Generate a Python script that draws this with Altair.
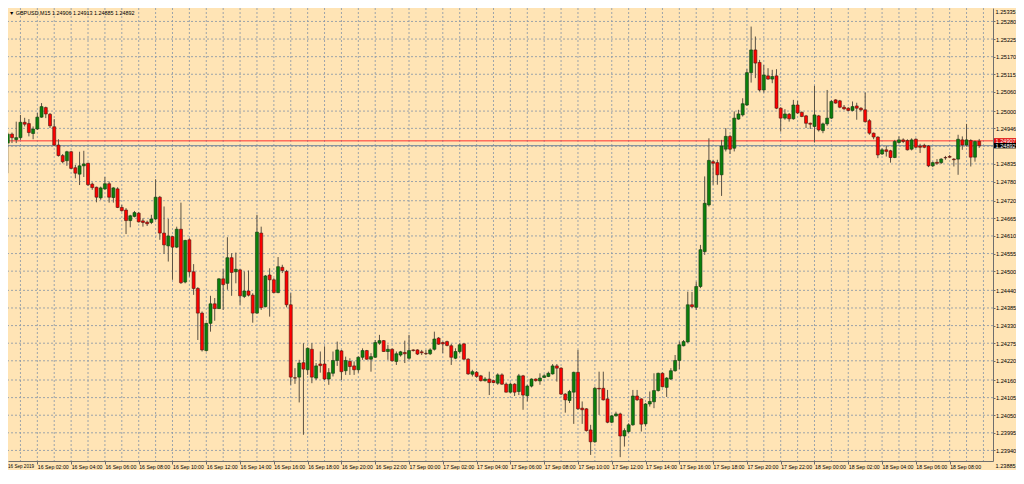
import altair as alt
import pandas as pd
import numpy as np

# ---------------- data (GBPUSD, M15) ----------------
symbol_title = "\u25bc GBPUSD,M15 1.24906 1.24913 1.24885 1.24892"
first_bar = "2019-09-16 00:15"
bar_freq = "15min"

opens = [
1.24900,1.24928,1.24911,1.24917,1.24965,1.24961,1.24930,1.24944,1.24981,1.25011,
1.24990,1.24951,1.24894,1.24861,1.24845,1.24873,1.24823,1.24803,1.24829,1.24837,
1.24772,1.24762,1.24729,1.24757,1.24773,1.24730,1.24757,1.24699,1.24691,1.24658,
1.24671,1.24681,1.24657,1.24653,1.24652,1.24663,1.24731,1.24619,1.24579,1.24608,
1.24575,1.24631,1.24466,1.24598,1.24498,1.24446,1.24369,1.24252,1.24337,1.24398,
1.24383,1.24476,1.24462,1.24542,1.24498,1.24504,1.24421,1.24438,1.24425,1.24369,
1.24619,1.24389,1.24488,1.24473,1.24433,1.24512,1.24499,1.24395,1.24167,1.24169,
1.24214,1.24192,1.24256,1.24166,1.24210,1.24210,1.24163,1.24181,1.24221,1.24251,
1.24189,1.24218,1.24204,1.24192,1.24231,1.24252,1.24225,1.24231,1.24275,1.24283,
1.24249,1.24256,1.24218,1.24238,1.24246,1.24228,1.24254,1.24254,1.24248,1.24243,
1.24242,1.24256,1.24291,1.24277,1.24280,1.24267,1.24228,1.24249,1.24273,1.24225,
1.24178,1.24184,1.24173,1.24158,1.24163,1.24158,1.24150,1.24176,1.24147,1.24122,
1.24147,1.24124,1.24173,1.24111,1.24141,1.24163,1.24157,1.24168,1.24171,1.24179,
1.24204,1.24197,1.24116,1.24096,1.24122,1.24184,1.24072,1.24070,1.24004,1.23967,
1.24134,1.24134,1.24101,1.24028,1.24048,1.24054,1.23985,1.23999,1.24020,1.24110,
1.24101,1.24023,1.24085,1.24092,1.24127,1.24181,1.24137,1.24163,1.24189,1.24221,
1.24267,1.24279,1.24395,1.24387,1.24452,1.24561,1.24707,1.24842,1.24839,1.24801,
1.24881,1.24921,1.24884,1.24975,1.24988,1.25019,1.25120,1.25191,1.25152,1.25066,
1.25110,1.25100,1.25110,1.25009,1.24978,1.24990,1.24976,1.25019,1.24996,1.24985,
1.24962,1.24952,1.24985,1.24939,1.24960,1.24978,1.25035,1.25032,1.25012,1.25009,
1.25002,1.25016,1.25009,1.25004,1.24970,1.24931,1.24919,1.24866,1.24879,1.24876,
1.24855,1.24902,1.24910,1.24908,1.24881,1.24912,1.24891,1.24893,1.24891,1.24829,
1.24840,1.24839,1.24855,1.24858,1.24850,1.24850,1.24910,1.24894,1.24908,1.24856,
1.24906]

highs = [
1.24933,1.24933,1.24967,1.24988,1.24979,1.24975,1.24952,1.24994,1.25025,1.25014,
1.24994,1.24975,1.24912,1.24866,1.24876,1.24876,1.24832,1.24873,1.24876,1.24839,
1.24777,1.24764,1.24764,1.24794,1.24780,1.24762,1.24762,1.24707,1.24697,1.24676,
1.24688,1.24685,1.24665,1.24658,1.24676,1.24787,1.24735,1.24702,1.24663,1.24610,
1.24639,1.24714,1.24598,1.24603,1.24522,1.24450,1.24374,1.24339,1.24423,1.24416,
1.24478,1.24506,1.24606,1.24556,1.24558,1.24506,1.24499,1.24502,1.24431,1.24676,
1.24639,1.24488,1.24509,1.24478,1.24544,1.24520,1.24504,1.24431,1.24197,1.24223,
1.24275,1.24262,1.24275,1.24213,1.24249,1.24265,1.24197,1.24249,1.24280,1.24254,
1.24233,1.24228,1.24218,1.24234,1.24259,1.24254,1.24244,1.24285,1.24301,1.24285,
1.24270,1.24259,1.24249,1.24251,1.24283,1.24301,1.24256,1.24256,1.24254,1.24254,
1.24259,1.24311,1.24294,1.24280,1.24283,1.24273,1.24259,1.24275,1.24275,1.24228,
1.24192,1.24188,1.24176,1.24169,1.24186,1.24161,1.24181,1.24181,1.24152,1.24152,
1.24150,1.24179,1.24176,1.24145,1.24165,1.24165,1.24181,1.24178,1.24186,1.24210,
1.24210,1.24200,1.24119,1.24129,1.24186,1.24254,1.24093,1.24072,1.24020,1.24139,
1.24186,1.24186,1.24129,1.24051,1.24061,1.24058,1.24009,1.24025,1.24129,1.24129,
1.24103,1.24088,1.24124,1.24181,1.24183,1.24184,1.24169,1.24197,1.24238,1.24280,
1.24285,1.24436,1.24435,1.24467,1.24582,1.24796,1.24915,1.24848,1.24848,1.24910,
1.24947,1.24926,1.24999,1.25004,1.25040,1.25131,1.25264,1.25233,1.25160,1.25144,
1.25134,1.25129,1.25131,1.25012,1.25006,1.24994,1.25035,1.25032,1.24999,1.24988,
1.24964,1.25079,1.24988,1.24964,1.25066,1.25035,1.25037,1.25035,1.25019,1.25012,
1.25030,1.25026,1.25012,1.25058,1.24975,1.24933,1.24921,1.24884,1.24891,1.24879,
1.24910,1.24921,1.24915,1.24912,1.24915,1.24915,1.24898,1.24898,1.24894,1.24842,
1.24850,1.24853,1.24860,1.24863,1.24853,1.24926,1.24921,1.24960,1.24912,1.24908,
1.24913]

lows = [
1.24806,1.24900,1.24900,1.24910,1.24952,1.24921,1.24912,1.24941,1.24979,1.24978,
1.24947,1.24891,1.24858,1.24837,1.24829,1.24819,1.24790,1.24769,1.24794,1.24766,
1.24754,1.24715,1.24723,1.24754,1.24714,1.24714,1.24697,1.24686,1.24616,1.24637,
1.24668,1.24652,1.24639,1.24641,1.24647,1.24660,1.24598,1.24554,1.24530,1.24473,
1.24572,1.24460,1.24462,1.24483,1.24426,1.24285,1.24249,1.24249,1.24311,1.24345,
1.24382,1.24379,1.24442,1.24423,1.24462,1.24395,1.24416,1.24421,1.24339,1.24367,
1.24379,1.24387,1.24358,1.24431,1.24431,1.24494,1.24387,1.24145,1.24148,1.24090,
1.23989,1.24176,1.24150,1.24160,1.24183,1.24160,1.24145,1.24171,1.24204,1.24160,
1.24176,1.24176,1.24176,1.24183,1.24223,1.24223,1.24186,1.24229,1.24270,1.24248,
1.24223,1.24218,1.24207,1.24233,1.24213,1.24223,1.24249,1.24238,1.24238,1.24238,
1.24238,1.24252,1.24270,1.24244,1.24265,1.24207,1.24225,1.24244,1.24223,1.24176,
1.24171,1.24167,1.24155,1.24155,1.24113,1.24150,1.24145,1.24145,1.24121,1.24119,
1.24110,1.24113,1.24067,1.24093,1.24137,1.24155,1.24145,1.24166,1.24169,1.24177,
1.24155,1.24113,1.24058,1.24088,1.24023,1.24067,1.24023,1.23999,1.23926,1.23964,
1.24051,1.24096,1.24025,1.24025,1.24046,1.23919,1.23952,1.23994,1.24017,1.24095,
1.23999,1.24015,1.24077,1.24072,1.24124,1.24137,1.24107,1.24160,1.24186,1.24194,
1.24265,1.24276,1.24385,1.24379,1.24447,1.24551,1.24702,1.24770,1.24770,1.24735,
1.24874,1.24866,1.24874,1.24973,1.24983,1.25016,1.25089,1.25103,1.25061,1.25058,
1.25098,1.25087,1.25006,1.24936,1.24973,1.24967,1.24973,1.24991,1.24981,1.24947,
1.24944,1.24902,1.24936,1.24931,1.24954,1.24975,1.25023,1.25009,1.25004,1.24999,
1.24999,1.24973,1.24999,1.24964,1.24926,1.24912,1.24853,1.24863,1.24858,1.24839,
1.24853,1.24898,1.24900,1.24877,1.24877,1.24884,1.24869,1.24884,1.24825,1.24825,
1.24832,1.24835,1.24848,1.24853,1.24827,1.24801,1.24879,1.24889,1.24827,1.24842,
1.24885]

closes = [
1.24928,1.24917,1.24917,1.24965,1.24959,1.24933,1.24944,1.24981,1.25014,1.24991,
1.24954,1.24894,1.24861,1.24842,1.24873,1.24821,1.24806,1.24829,1.24835,1.24770,
1.24761,1.24731,1.24760,1.24773,1.24731,1.24760,1.24699,1.24689,1.24658,1.24673,
1.24683,1.24654,1.24652,1.24648,1.24663,1.24731,1.24619,1.24582,1.24610,1.24575,
1.24631,1.24464,1.24596,1.24498,1.24446,1.24369,1.24254,1.24337,1.24398,1.24383,
1.24476,1.24458,1.24542,1.24496,1.24506,1.24423,1.24438,1.24425,1.24369,1.24622,
1.24386,1.24485,1.24473,1.24433,1.24514,1.24502,1.24395,1.24169,1.24166,1.24213,
1.24194,1.24259,1.24169,1.24204,1.24205,1.24163,1.24183,1.24221,1.24254,1.24186,
1.24221,1.24202,1.24192,1.24231,1.24252,1.24225,1.24233,1.24277,1.24283,1.24249,
1.24256,1.24220,1.24242,1.24248,1.24242,1.24252,1.24252,1.24241,1.24245,1.24242,
1.24254,1.24288,1.24272,1.24273,1.24268,1.24231,1.24249,1.24270,1.24225,1.24179,
1.24186,1.24171,1.24158,1.24163,1.24152,1.24152,1.24176,1.24147,1.24122,1.24147,
1.24122,1.24173,1.24113,1.24141,1.24163,1.24158,1.24166,1.24173,1.24181,1.24204,
1.24197,1.24116,1.24098,1.24124,1.24184,1.24070,1.24067,1.24002,1.23967,1.24134,
1.24132,1.24098,1.24028,1.24048,1.24054,1.23985,1.24002,1.24020,1.24110,1.24098,
1.24022,1.24085,1.24093,1.24127,1.24181,1.24139,1.24166,1.24189,1.24221,1.24270,
1.24280,1.24395,1.24389,1.24452,1.24567,1.24712,1.24846,1.24837,1.24801,1.24891,
1.24921,1.24881,1.24978,1.24991,1.25023,1.25120,1.25191,1.25150,1.25066,1.25113,
1.25100,1.25108,1.25009,1.24978,1.24991,1.24976,1.25019,1.24994,1.24983,1.24962,
1.24959,1.24988,1.24941,1.24960,1.24978,1.25030,1.25025,1.25012,1.25007,1.25002,
1.25014,1.25009,1.25004,1.24967,1.24931,1.24919,1.24863,1.24879,1.24874,1.24855,
1.24905,1.24910,1.24905,1.24879,1.24910,1.24887,1.24887,1.24887,1.24829,1.24839,
1.24837,1.24850,1.24854,1.24856,1.24848,1.24912,1.24894,1.24910,1.24856,1.24905,
1.24892]

# right price scale labels (as printed by the terminal)
y_tick_labels = [1.25280, 1.25225, 1.25170, 1.25115, 1.25060, 1.25000,
                 1.24946, 1.24835, 1.24780, 1.24720, 1.24665, 1.24610, 1.24555,
                 1.24500, 1.24440, 1.24385, 1.24330, 1.24275, 1.24220, 1.24160,
                 1.24105, 1.24050, 1.23995, 1.23940]
y_edge_labels = ["1.25335", "1.23885"]
hidden_grid_levels = [1.24890]
ask_price = 1.24907
bid_price = 1.24892
price_labels = ["1.24907", "1.24892"]
first_date_label = "16 Sep 2019"

x_start = "2019-09-16 00:33:34"
x_end = "2019-09-18 10:16:12"
label_start, label_end = "2019-09-16 02:00", "2019-09-18 08:00"
grid_start, grid_end = "2019-09-16 01:00", "2019-09-18 10:00"
y_domain = [1.23907, 1.25322]

# ---------------- styling ----------------
BG = "#FFE4B5"
GRID = "#8C99A8"
WICK = "#5A5245"
BULL, BULL_EDGE = "#0B800B", "#123812"
BEAR, BEAR_EDGE = "#FF0000", "#4A1A10"
AXIS = "#6E6E6E"
FONT = "Liberation Sans"
PLOT_W, PLOT_H = 985, 453
RIGHT_PAD = 23
LBL = 5.6


def ms(ts):
    return int(pd.Timestamp(ts).value // 10**6)


times = pd.date_range(first_bar, periods=len(opens), freq=bar_freq)
df = pd.DataFrame({
    "t": [ms(t) for t in times],
    "o": opens, "h": highs, "l": lows, "c": closes,
})
df["fill"] = np.where(df["c"] >= df["o"], BULL, BEAR)
df["edge"] = np.where(df["c"] >= df["o"], BULL_EDGE, BEAR_EDGE)

label_ms = [ms(t) for t in pd.date_range(label_start, label_end, freq="2h")]
hour_ms = [ms(t) for t in pd.date_range(grid_start, grid_end, freq="1h")]

xscale = alt.Scale(domain=[ms(x_start), ms(x_end)], nice=False, zero=False)
yscale = alt.Scale(domain=y_domain, nice=False, zero=False)

xaxis = alt.Axis(
    values=label_ms,
    labelExpr="utcFormat(datum.value, '%d %b %H:%M')",
    grid=False, domainColor=AXIS, domainWidth=1, tickColor=AXIS, tickSize=3,
    labelFontSize=5.2, labelFont=FONT, labelColor="#000000", labelAlign="left",
    labelBaseline="top", labelPadding=0, labelOverlap=False, labelFlush=False,
    labelBound=False, title=None,
)
yaxis = alt.Axis(
    orient="right", values=y_tick_labels, format=".5f", grid=False,
    domainColor=AXIS, domainWidth=1, tickColor=AXIS, tickSize=2, labelPadding=0.5,
    labelFontSize=LBL, labelFont=FONT, labelColor="#000000", labelAlign="left",
    labelBaseline="middle", labelOverlap=False, labelFlush=False, labelBound=False,
    title=None,
)

X = alt.X("t:Q", scale=xscale, axis=xaxis)

vgrid = alt.Chart(pd.DataFrame({"t": hour_ms})).mark_rule(
    color=GRID, strokeDash=[2, 2], strokeWidth=1, opacity=0.85
).encode(x=X)

hgrid = alt.Chart(pd.DataFrame({"p": y_tick_labels + hidden_grid_levels})).mark_rule(
    color=GRID, strokeDash=[2, 2], strokeWidth=1, opacity=0.85
).encode(y=alt.Y("p:Q", scale=yscale, axis=yaxis))

price_lines = alt.Chart(pd.DataFrame({
    "p": [ask_price, bid_price], "col": ["#FF3030", "#778899"]
})).mark_rule(strokeWidth=1).encode(
    y=alt.Y("p:Q", scale=yscale, axis=yaxis), color=alt.Color("col:N", scale=None)
)

wicks = alt.Chart(df).mark_rule(color=WICK, strokeWidth=1).encode(
    x=X, y=alt.Y("l:Q", scale=yscale, axis=yaxis), y2="h:Q"
)

bodies = alt.Chart(df).mark_bar(size=3, strokeWidth=0.6).encode(
    x=X, y=alt.Y("o:Q", scale=yscale, axis=yaxis), y2="c:Q",
    color=alt.Color("fill:N", scale=None), stroke=alt.Stroke("edge:N", scale=None),
)

box_df = pd.DataFrame({
    "p": [ask_price, bid_price], "lab": price_labels,
    "col": ["#E01010", "#000000"],
})
box_df["lo"] = box_df["p"] - 0.000085
box_df["hi"] = box_df["p"] + 0.000085

boxes = alt.Chart(box_df).mark_rect().encode(
    x=alt.value(PLOT_W + 1), x2=alt.value(PLOT_W + RIGHT_PAD),
    y=alt.Y("lo:Q", scale=yscale, axis=yaxis), y2="hi:Q",
    color=alt.Color("col:N", scale=None),
)
box_text = alt.Chart(box_df).mark_text(
    align="left", baseline="middle", fontSize=LBL, font=FONT, color="#FFFFFF"
).encode(x=alt.value(PLOT_W + 2.5), y=alt.Y("p:Q", scale=yscale, axis=yaxis), text="lab:N")

# labels that sit on the very edge of the terminal window, nudged inside
edge_df = pd.DataFrame({"s": y_edge_labels, "ypix": [4, 458]})
edge_labels = alt.Chart(edge_df).mark_text(
    align="left", baseline="middle", fontSize=LBL, font=FONT, color="#000000"
).encode(x=alt.value(PLOT_W + 2.5), y=alt.Y("ypix:Q", scale=None), text="s:N")

first_label_text = alt.Chart(pd.DataFrame({"s": [first_date_label]})).mark_text(
    align="left", baseline="top", fontSize=4.6, font=FONT, color="#000000"
).encode(x=alt.value(0), y=alt.value(PLOT_H + 3), text="s:N")

title_text = alt.Chart(pd.DataFrame({"s": [symbol_title]})).mark_text(
    align="left", baseline="middle", fontSize=5.4, font=FONT, color="#000000"
).encode(x=alt.value(1), y=alt.value(4.5), text="s:N")

chart = alt.layer(
    vgrid, hgrid, price_lines, wicks, bodies, boxes, box_text,
    edge_labels, first_label_text, title_text
).properties(
    width=PLOT_W, height=PLOT_H,
    padding={"left": 0, "top": 0, "right": RIGHT_PAD, "bottom": 9},
    autosize=alt.AutoSizeParams(type="none"),
    background=BG,
).configure_view(strokeWidth=0)

chart.save("out.html", embed_options={"renderer": "svg", "actions": False})
